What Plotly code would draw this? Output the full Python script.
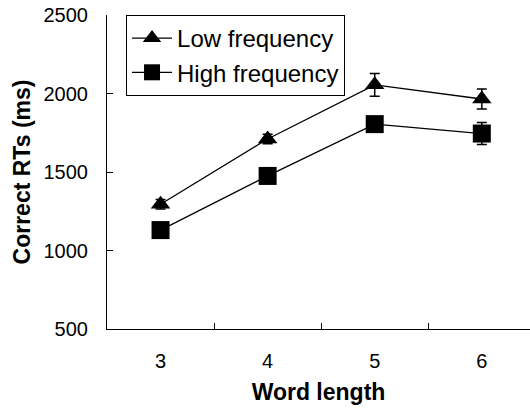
import plotly.graph_objects as go

word_length = ["3", "4", "5", "6"]
low_freq = [1295, 1710, 2055, 1965]
low_err = [30, 30, 73, 64]
high_freq = [1130, 1475, 1805, 1745]
high_err = [30, 30, 45, 70]
y_ticks = [500, 1000, 1500, 2000, 2500]

FONT = "Liberation Sans, Arial, sans-serif"

fig = go.Figure()
fig.add_trace(go.Scatter(
    x=word_length, y=low_freq, name="Low frequency", mode="lines+markers",
    line=dict(color="black", width=1.3),
    marker=dict(symbol="triangle-up", size=17, color="black"),
    error_y=dict(type="data", array=low_err, color="black", thickness=1.5, width=5),
))
fig.add_trace(go.Scatter(
    x=word_length, y=high_freq, name="High frequency", mode="lines+markers",
    line=dict(color="black", width=1.3),
    marker=dict(symbol="square", size=18, color="black"),
    error_y=dict(type="data", array=high_err, color="black", thickness=1.5, width=5),
))

fig.update_layout(
    width=530, height=409,
    margin=dict(l=107, r=0, t=15, b=80),
    paper_bgcolor="white", plot_bgcolor="white",
    font=dict(family=FONT, color="black", size=20),
    showlegend=True,
    legend=dict(
        x=0.045, y=1.0, xanchor="left", yanchor="top",
        bordercolor="black", borderwidth=1, bgcolor="white",
        font=dict(size=24, family=FONT, color="black"),
        itemwidth=40, tracegroupgap=0,
    ),
    xaxis=dict(
        type="category", range=[-0.5, 3.45], automargin=False,
        showline=True, linecolor="black", linewidth=1.2,
        ticks="inside", ticklen=6, tickcolor="black", tickson="boundaries",
        showgrid=False, zeroline=False,
        tickfont=dict(size=20, family=FONT),
        ticklabelstandoff=14, ticklabeloverflow="allow",
        title=dict(text="<b>Word length</b>", font=dict(size=23, family=FONT), standoff=12),
    ),
    yaxis=dict(
        range=[500, 2500], tickvals=y_ticks, automargin=False,
        showline=True, linecolor="black", linewidth=1.2,
        ticks="inside", ticklen=6, tickcolor="black",
        showgrid=False, zeroline=False,
        tickfont=dict(size=20, family=FONT),
        ticklabelstandoff=14, ticklabeloverflow="allow",
        title=dict(text="<b>Correct RTs (ms)</b>", font=dict(size=23, family=FONT), standoff=6),
    ),
)

fig.write_html(
    "out.html",
    config={"displayModeBar": False},
    post_script="document.body.style.margin='0';",
)
